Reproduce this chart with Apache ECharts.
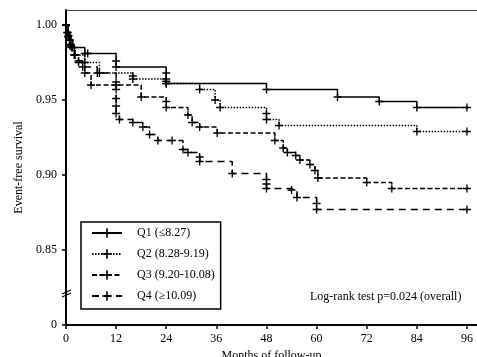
<!DOCTYPE html>
<html><head><meta charset="utf-8">
<script src="https://cdn.jsdelivr.net/npm/echarts@6/dist/echarts.min.js"></script>
<style>html,body{margin:0;padding:0;background:#fff}#c{width:477px;height:357px}</style>
</head><body><div id="c"></div>
<script>
const seriesNames = ['Q1 (≤8.27)', 'Q2 (8.28-9.19)', 'Q3 (9.20-10.08)', 'Q4 (≥10.09)'];

const q1Months = [0, 0.4, 0.9, 1.6, 4.5, 5.2, 12, 12, 24, 24, 24, 48, 65, 75, 84, 96];
const q1Surv   = [1.000, 0.995, 0.990, 0.985, 0.981, 0.981, 0.976, 0.972, 0.968, 0.964, 0.961, 0.957, 0.952, 0.949, 0.945, 0.945];

const q2Months = [0, 0.3, 0.8, 1.3, 2.2, 4.5, 8, 16, 16, 24, 24, 32, 35.7, 36.9, 48, 48, 51, 84, 96];
const q2Surv   = [1.000, 0.995, 0.990, 0.985, 0.980, 0.975, 0.968, 0.966, 0.964, 0.9625, 0.961, 0.957, 0.950, 0.945, 0.941, 0.937, 0.933, 0.929, 0.929];

const q3Months = [0, 0.6, 1.2, 2, 3, 4.5, 6, 12, 18, 24, 24, 29.2, 30.2, 32, 36.2, 50, 52, 53, 55, 56, 58.4, 59.6, 60.3, 72, 78, 96];
const q3Surv   = [1.000, 0.993, 0.987, 0.980, 0.975, 0.968, 0.960, 0.960, 0.952, 0.949, 0.945, 0.940, 0.935, 0.932, 0.928, 0.923, 0.918, 0.915, 0.913, 0.910, 0.907, 0.903, 0.898, 0.895, 0.891, 0.891];

const q4Months = [0, 0.5, 1, 2, 3, 4, 7.5, 12, 12, 12, 12, 12, 12.8, 16, 18.4, 20, 22, 25.4, 28, 29.2, 32, 32, 39.8, 48, 48, 48, 54, 55.3, 60, 60, 96];
const q4Surv   = [1.000, 0.992, 0.986, 0.980, 0.976, 0.972, 0.968, 0.962, 0.957, 0.951, 0.946, 0.941, 0.937, 0.935, 0.932, 0.927, 0.923, 0.923, 0.917, 0.915, 0.912, 0.909, 0.901, 0.897, 0.894, 0.891, 0.890, 0.885, 0.881, 0.877, 0.877];

const xTickValues = [0, 12, 24, 36, 48, 60, 72, 84, 96];
const yTickValues = [0.80, 0.85, 0.90, 0.95, 1.00];
const yTickLabels = ['0', '0.85', '0.90', '0.95', '1.00'];
const xAxisTitle = 'Months of follow-up';
const yAxisTitle = 'Event-free survival';
const annotationText = 'Log-rank test p=0.024 (overall)';
const axisBreakValue = 0.8213;

const FONT = 'Liberation Serif';
const plus = 'path://M-1,-6H1V-1H6V1H1V6H-1V1H-6V-1H-1Z';
const dashStyles = ['solid', [1.5, 1.5], [5, 2.5], [7, 5]];
const monthsList = [q1Months, q2Months, q3Months, q4Months];
const survList = [q1Surv, q2Surv, q3Surv, q4Surv];
const X_MAX = 98.4;

const chart = echarts.init(document.getElementById('c'), null, {renderer: 'canvas'});

const series = seriesNames.map((name, i) => ({
  name: name,
  type: 'line',
  step: 'end',
  xAxisIndex: 0,
  data: monthsList[i].map((m, j) => [m, survList[i][j]]),
  symbol: plus,
  symbolSize: 8,
  showSymbol: true,
  showAllSymbol: true,
  lineStyle: {color: '#000', width: 1.5, type: dashStyles[i]},
  itemStyle: {color: '#000'},
  emphasis: {disabled: true},
  z: 3
}));

chart.setOption({
  animation: false,
  backgroundColor: '#fff',
  grid: {left: 66, top: 10, right: 0, height: 315, show: false, containLabel: false, outerBoundsMode: 'none'},
  xAxis: [{
    type: 'value', min: 0, max: X_MAX,
    name: xAxisTitle, nameLocation: 'middle', nameGap: 21,
    nameTextStyle: {fontFamily: FONT, fontSize: 12, color: '#000'},
    axisLine: {lineStyle: {color: '#000', width: 2}},
    axisTick: {length: 4, customValues: xTickValues, lineStyle: {color: '#000', width: 1.5}},
    axisLabel: {customValues: xTickValues, margin: 8, fontFamily: FONT, fontSize: 12, color: '#000'},
    splitLine: {show: false}
  }, {
    type: 'value', position: 'top', min: 0, max: X_MAX,
    axisLine: {show: true, lineStyle: {color: '#444', width: 1}},
    axisTick: {show: false}, axisLabel: {show: false}, splitLine: {show: false}
  }],
  yAxis: {
    type: 'value', min: 0.80, max: 1.01,
    name: yAxisTitle, nameLocation: 'middle', nameGap: 40,
    nameTextStyle: {fontFamily: FONT, fontSize: 12, color: '#000'},
    axisLine: {lineStyle: {color: '#000', width: 2}},
    axisTick: {length: 4, customValues: yTickValues, lineStyle: {color: '#000', width: 1.5}},
    axisLabel: {customValues: yTickValues, margin: 9, fontFamily: FONT, fontSize: 12, color: '#000',
      formatter: v => { const k = yTickValues.findIndex(t => Math.abs(t - v) < 1e-9); return k >= 0 ? yTickLabels[k] : ''; }},
    splitLine: {show: false}
  },
  legend: {
    data: seriesNames,
    orient: 'vertical', left: 81, top: 222,
    itemWidth: 30, itemHeight: 12, itemGap: 9,
    padding: [5, 6, 7, 10],
    borderColor: '#000', borderWidth: 1.5,
    textStyle: {fontFamily: FONT, fontSize: 12, color: '#000', padding: [0, 0, 0, 10]},
    selectedMode: false
  },
  series: series
});

const bp = chart.convertToPixel({xAxisIndex: 0, yAxisIndex: 0}, [0, axisBreakValue]);
chart.setOption({
  graphic: [
    {type: 'text', left: 310, top: 291, style: {text: annotationText, fontFamily: FONT, fontSize: 12, fill: '#000'}},
    {type: 'line', shape: {x1: bp[0] - 4, y1: bp[1] + 1, x2: bp[0] + 5, y2: bp[1] - 3}, style: {stroke: '#000', lineWidth: 1.2}, z: 10},
    {type: 'line', shape: {x1: bp[0] - 4, y1: bp[1] + 4, x2: bp[0] + 5, y2: bp[1]}, style: {stroke: '#000', lineWidth: 1.2}, z: 10}
  ]
});
</script>
</body></html>
